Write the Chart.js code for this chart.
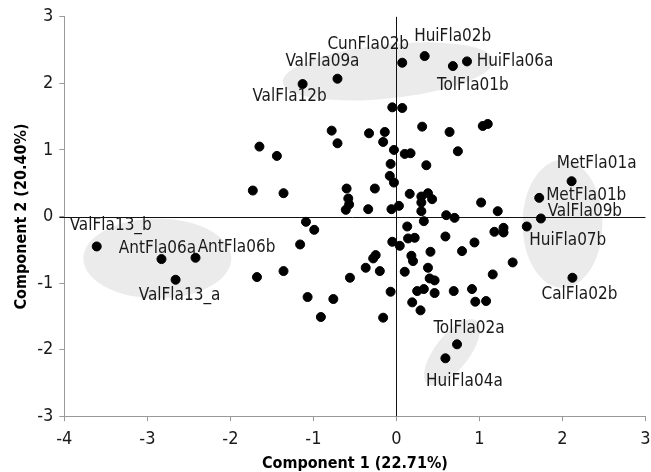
<!DOCTYPE html>
<html>
<head>
<meta charset="utf-8">
<script src="https://cdn.jsdelivr.net/npm/chart.js@4/dist/chart.umd.min.js"></script>
<style>
  html, body { margin: 0; padding: 0; background: #ffffff; }
  #wrap { width: 651px; height: 472px; position: relative; }
</style>
</head>
<body>
<div id="wrap"><canvas id="pcaChart"></canvas></div>
<script>
// 目盛り
const xTicks = [-4, -3, -2, -1, 0, 1, 2, 3];
const yTicks = [-3, -2, -1, 0, 1, 2, 3];

// 名前付きの点
const namedNames = ['ValFla12b', 'ValFla09a', 'CunFla02b', 'HuiFla02b', 'TolFla01b', 'HuiFla06a',
  'MetFla01a', 'MetFla01b', 'ValFla09b', 'HuiFla07b', 'CalFla02b', 'TolFla02a', 'HuiFla04a',
  'ValFla13_b', 'AntFla06a', 'AntFla06b', 'ValFla13_a'];
const namedX = [-1.13, -0.71, 0.07, 0.34, 0.68, 0.85, 2.11, 1.72, 1.74, 1.57, 2.12, 0.73, 0.59, -3.61, -2.83, -2.42, -2.66];
const namedY = [1.99, 2.07, 2.31, 2.41, 2.26, 2.33, 0.53, 0.28, -0.03, -0.15, -0.92, -1.92, -2.13, -0.45, -0.64, -0.62, -0.95];

// 名前なしの点
const otherX = [-0.05, 0.07, 0.31, -0.78, -0.33, -0.14, 0.64, 1.04, 1.10, -1.65, -0.71, -0.16, -1.44, -0.03, 0.10, 0.17,
  0.74, 0.36, -0.07, -0.08, -0.03, -1.73, -1.36, -0.60, -0.26, 0.16, -0.58, -0.57, -0.61, -0.34, -0.06, 0.03,
  0.30, 0.38, 0.43, 0.30, 0.30, 1.02, 1.22, 0.60, 0.70, -1.09, -0.99, -1.16, 0.13, 0.33, 0.14, 0.22,
  -0.05, 0.04, 0.59, 1.18, 1.29, 1.29, 0.94, 0.41, 0.79, -0.25, -0.28, 0.18, 0.20, 1.40, -1.68, -1.36,
  -0.37, -0.20, 0.10, 0.38, 0.40, 0.46, 1.16, -0.56, -0.07, 0.25, 0.33, 0.46, 0.69, 0.91, 0.19, 0.29,
  0.95, 1.08, -1.07, -0.76, -0.91, -0.16];
const otherY = [1.64, 1.63, 1.35, 1.29, 1.25, 1.27, 1.27, 1.36, 1.39, 1.05, 1.10, 1.12, 0.91, 1.00, 0.94, 0.95,
  0.98, 0.77, 0.79, 0.61, 0.51, 0.39, 0.35, 0.42, 0.42, 0.34, 0.27, 0.18, 0.10, 0.11, 0.11, 0.16,
  0.30, 0.35, 0.26, 0.21, 0.08, 0.21, 0.08, 0.02, -0.02, -0.08, -0.20, -0.42, -0.15, -0.07, -0.33, -0.32,
  -0.38, -0.44, -0.30, -0.23, -0.17, -0.24, -0.39, -0.53, -0.52, -0.58, -0.63, -0.59, -0.67, -0.69, -0.91, -0.82,
  -0.77, -0.82, -0.83, -0.77, -0.93, -0.96, -0.87, -0.92, -1.13, -1.12, -1.09, -1.15, -1.12, -1.09, -1.29, -1.41,
  -1.28, -1.27, -1.21, -1.24, -1.51, -1.52];

// 楕円（グループ）: 中心はデータ座標
const groupCx = [-0.10, -2.88, 2.00, 0.67];
const groupCy = [2.18, -0.63, -0.11, -2.04];

// スタイル（ピクセル）
const groupStyle = [
  { rx: 106, ry: 27, rot: -6 },
  { rx: 74, ry: 40, rot: 0 },
  { rx: 40, ry: 64, rot: 0 },
  { rx: 40, ry: 17, rot: -52 }
];
const labelOffset = {
  ValFla12b: [-13, 13], ValFla09a: [-15, -17], CunFla02b: [-34, -18], HuiFla02b: [28, -19],
  TolFla01b: [20, 20], HuiFla06a: [48, 0], MetFla01a: [25, -18], MetFla01b: [47, -2],
  ValFla09b: [44, -7], HuiFla07b: [41, 14], CalFla02b: [7, 17], TolFla02a: [12, -16],
  HuiFla04a: [19, 23], ValFla13_b: [14, -21], AntFla06a: [-4, -11], AntFla06b: [41, -10],
  ValFla13_a: [4, 16]
};

const FONT = "'DejaVu Sans Condensed', 'DejaVu Sans', sans-serif";

const toPts = (xs, ys) => xs.map((x, i) => ({ x: x, y: ys[i] }));

// 楕円と原点線とラベル
const groupPlugin = {
  id: 'groups',
  beforeDatasetsDraw(chart) {
    const ctx = chart.ctx;
    const sx = chart.scales.x, sy = chart.scales.y;
    ctx.save();
    ctx.fillStyle = '#ebebeb';
    groupCx.forEach((cx, i) => {
      const st = groupStyle[i];
      ctx.beginPath();
      ctx.ellipse(sx.getPixelForValue(cx), sy.getPixelForValue(groupCy[i]), st.rx, st.ry, st.rot * Math.PI / 180, 0, Math.PI * 2);
      ctx.fill();
    });
    ctx.strokeStyle = '#111';
    ctx.lineWidth = 1;
    const a = chart.chartArea;
    const x0 = Math.round(sx.getPixelForValue(0)) + 0.5;
    const y0 = Math.round(sy.getPixelForValue(0)) + 0.5;
    ctx.beginPath();
    ctx.moveTo(x0, a.top); ctx.lineTo(x0, a.bottom);
    ctx.moveTo(a.left - 5, y0); ctx.lineTo(a.right, y0);
    ctx.stroke();
    ctx.restore();
  },
  afterDatasetsDraw(chart) {
    const ctx = chart.ctx;
    const sx = chart.scales.x, sy = chart.scales.y;
    ctx.save();
    ctx.fillStyle = '#1a1a1a';
    ctx.font = '17px ' + FONT;
    ctx.textAlign = 'center';
    ctx.textBaseline = 'middle';
    namedNames.forEach((n, i) => {
      const off = labelOffset[n] || [0, -14];
      ctx.fillText(n, sx.getPixelForValue(namedX[i]) + off[0], sy.getPixelForValue(namedY[i]) + off[1]);
    });
    ctx.restore();
  }
};

const axisCommon = {
  type: 'linear',
  border: { display: true, color: '#999', width: 1 },
  grid: { display: true, drawOnChartArea: false, drawTicks: true, tickLength: 5, tickColor: '#999', color: '#999' },
};

new Chart(document.getElementById('pcaChart'), {
  type: 'scatter',
  data: {
    datasets: [{
      data: toPts(namedX, namedY).concat(toPts(otherX, otherY)),
      backgroundColor: '#000',
      borderColor: '#000',
      pointRadius: 4.5,
      pointHoverRadius: 4.5
    }]
  },
  options: {
    responsive: true,
    maintainAspectRatio: false,
    animation: false,
    layout: { padding: { top: 12, right: 0, bottom: -1, left: 12 } },
    plugins: { legend: { display: false }, tooltip: { enabled: false } },
    scales: {
      x: Object.assign({}, axisCommon, {
        min: xTicks[0], max: xTicks[xTicks.length - 1],
        afterBuildTicks: (s) => { s.ticks = xTicks.map(v => ({ value: v })); },
        afterFit: (s) => { s.paddingRight = 5; },
        ticks: { color: '#1a1a1a', font: { family: FONT, size: 18 }, padding: 7, maxRotation: 0 },
        title: { display: true, text: 'Component 1 (22.71%)', color: '#000', font: { family: FONT, size: 16, weight: 'bold' }, padding: { top: -3, bottom: 0 } }
      }),
      y: Object.assign({}, axisCommon, {
        min: yTicks[0], max: yTicks[yTicks.length - 1],
        afterBuildTicks: (s) => { s.ticks = yTicks.map(v => ({ value: v })); },
        ticks: { color: '#1a1a1a', font: { family: FONT, size: 18 }, padding: 6 },
        title: { display: true, text: 'Component 2 (20.40%)', color: '#000', font: { family: FONT, size: 16, weight: 'bold' }, padding: { top: 0, bottom: 0 } }
      })
    }
  },
  plugins: [groupPlugin]
});
</script>
</body>
</html>
